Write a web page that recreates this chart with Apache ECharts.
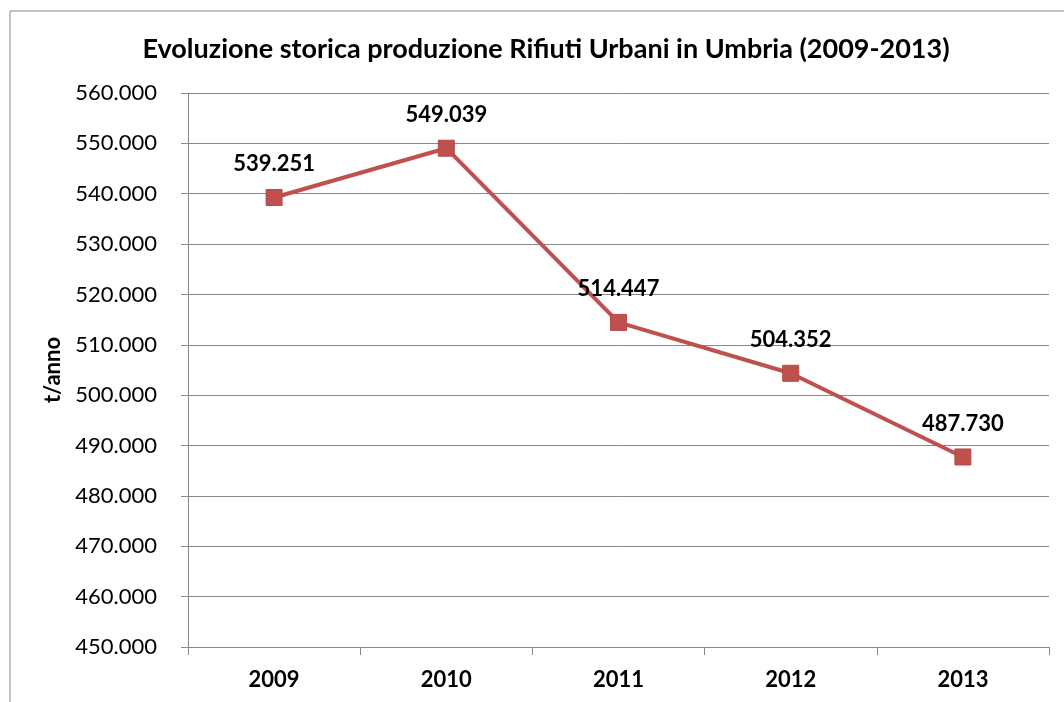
<!DOCTYPE html>
<html>
<head>
<meta charset="utf-8">
<script src="https://cdn.jsdelivr.net/npm/echarts@6/dist/echarts.min.js"></script>
<style>
  html, body { margin: 0; padding: 0; background: #fff; }
  #chart { width: 1064px; height: 702px; }
</style>
</head>
<body>
<div id="chart"></div>
<script>
// Data
const years = ['2009', '2010', '2011', '2012', '2013'];
const tonnes = [539251, 549039, 514447, 504352, 487730];

const fontFam = 'Lato, "Open Sans", sans-serif';
const red = '#C0504D';

// Italian thousands separator: 539251 -> 539.251
function fmt(v) {
    return String(Math.round(v)).replace(/\B(?=(\d{3})+(?!\d))/g, '.');
}

const chart = echarts.init(document.getElementById('chart'));
chart.setOption({
    animation: false,
    backgroundColor: '#fff',
    title: {
        text: 'Evoluzione storica produzione Rifiuti Urbani in Umbria (2009-2013)',
        left: 541,
        textAlign: 'center',
        top: 31,
        textStyle: { fontFamily: fontFam, fontWeight: 'bold', fontSize: 27, color: '#000' }
    },
    // outer chart frame (only left/top edges fall inside the picture)
    graphic: [{
        type: 'rect',
        shape: { x: 10, y: 11, width: 1200, height: 900 },
        style: { fill: 'none', stroke: '#888', lineWidth: 1 },
        silent: true
    }],
    grid: { left: 188, right: 15, top: 93, bottom: 55 },
    xAxis: {
        type: 'category',
        data: years,
        boundaryGap: true,
        axisLine: { lineStyle: { color: '#888', width: 1 } },
        axisTick: { show: true, length: 8, lineStyle: { color: '#888' } },
        axisLabel: { fontFamily: fontFam, fontWeight: 'bold', fontSize: 22, color: '#000', margin: 22 }
    },
    yAxis: {
        type: 'value',
        min: 450000,
        max: 560000,
        interval: 10000,
        name: 't/anno',
        nameLocation: 'middle',
        nameGap: 122,
        nameRotate: 90,
        nameTextStyle: { fontFamily: fontFam, fontWeight: 'bold', fontSize: 22, color: '#000' },
        axisLine: { show: true, lineStyle: { color: '#888', width: 1 } },
        axisTick: { show: true, length: 7, lineStyle: { color: '#888' } },
        splitLine: { lineStyle: { color: '#888', width: 1 } },
        axisLabel: {
            fontFamily: fontFam, fontSize: 22, color: '#000', margin: 31,
            formatter: function (v) { return v === 0 ? '0' : fmt(v); }
        }
    },
    series: [{
        type: 'line',
        data: tonnes,
        symbol: 'rect',
        symbolSize: 16,
        itemStyle: { color: red, borderColor: '#B84A47', borderWidth: 1 },
        lineStyle: { color: red, width: 4 },
        label: {
            show: true,
            position: 'top',
            distance: 14,
            fontFamily: fontFam,
            fontWeight: 'bold',
            fontSize: 22,
            color: '#000',
            formatter: function (p) { return fmt(p.value); }
        }
    }]
});
</script>
</body>
</html>
